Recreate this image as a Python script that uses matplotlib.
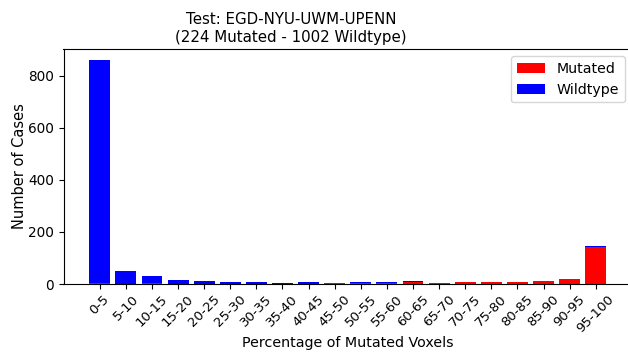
import matplotlib
matplotlib.use("Agg")
import matplotlib.pyplot as plt
import numpy as np

bins = ["0-5", "5-10", "10-15", "15-20", "20-25", "25-30", "30-35", "35-40",
        "40-45", "45-50", "50-55", "55-60", "60-65", "65-70", "70-75", "75-80",
        "80-85", "85-90", "90-95", "95-100"]
mutated = [2, 1, 2, 1, 1, 1, 1, 1, 1, 2, 3, 4, 8, 3, 6, 8, 8, 12, 18, 142]
wildtype = [858, 50, 27, 16, 11, 6, 5, 4, 5, 3, 3, 2, 2, 1, 1, 1, 1, 1, 1, 4]

fig = plt.figure(figsize=(6.28, 3.53), dpi=100)
ax = fig.add_axes([63.5 / 628, 69 / 353, 568.5 / 628, 235 / 353])

x = np.arange(len(bins))
ax.bar(x, mutated, width=0.8, color="red", label="Mutated")
ax.bar(x, wildtype, width=0.8, bottom=mutated, color="blue", label="Wildtype")

ax.set_xticks(x)
ax.set_xticklabels(bins, rotation=45, fontsize=9.5)
ax.tick_params(axis="x", pad=2.5)
ax.tick_params(axis="y", labelsize=9.8)
ax.set_yticks([0, 200, 400, 600, 800])
ax.set_xlabel("Percentage of Mutated Voxels", fontsize=10.3, labelpad=1)
ax.set_ylabel("Number of Cases", fontsize=10.5, labelpad=1)
ax.legend(loc="upper right", fontsize=10.2)

fig.text(291 / 628, 1 - 12 / 353,
         "Test: EGD-NYU-UWM-UPENN\n(224 Mutated - 1002 Wildtype)",
         ha="center", va="top", fontsize=10.8, linespacing=1.25)

fig.savefig("out.png", dpi=100)
